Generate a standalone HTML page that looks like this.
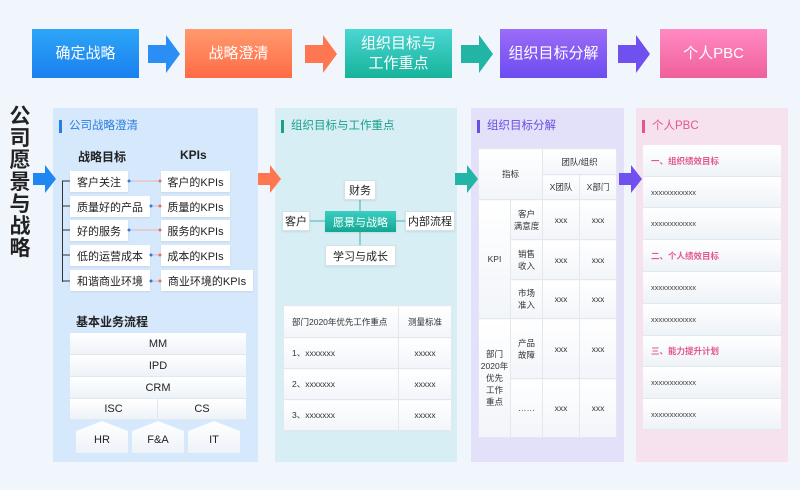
<!DOCTYPE html>
<html><head><meta charset="utf-8"><style>
*{margin:0;padding:0;box-sizing:border-box}
body{width:800px;height:490px;background:#f1f6fc;font-family:"Liberation Sans","Noto Sans CJK SC",sans-serif;position:relative;overflow:hidden;color:#222}
.a{position:absolute}
.top{position:absolute;top:29px;height:49px;width:107px;color:#fff;font-size:15px;display:flex;align-items:center;justify-content:center;text-align:center;line-height:20px}
.panel{position:absolute;top:108px;height:354px}
.ttl{position:absolute;left:6px;top:12px;font-size:11.5px;padding-left:7px;border-left:3px solid;line-height:13px}
.box{position:absolute;background:#fff;font-size:11px;display:flex;align-items:center;justify-content:center;box-shadow:0 1px 2px rgba(0,0,0,.08)}
.row{position:absolute;background:linear-gradient(#fff,#eef3f8);font-size:11px;display:flex;align-items:center;justify-content:center;border-bottom:1px solid #e0e8f0}
table{border-collapse:collapse;position:absolute;background:#fff}
td{border:1px solid #e3e8ef;text-align:center;font-size:8.5px;color:#333;background:linear-gradient(#fff,#f2f5f9)}
</style></head><body>
<!-- top flow -->
<div class="top" style="left:32px;background:linear-gradient(#2ca6f6,#1a7ff0)">确定战略</div>
<div class="top" style="left:185px;background:linear-gradient(#ff9a6e,#ff6b45)">战略澄清</div>
<div class="top" style="left:345px;background:linear-gradient(#4bd6d2,#16b39b)">组织目标与<br>工作重点</div>
<div class="top" style="left:500px;background:linear-gradient(#9b6cf7,#6c4cf0)">组织目标分解</div>
<div class="top" style="left:660px;background:linear-gradient(#ff8ac4,#f0609a)">个人PBC</div>
<div class="a" style="left:8px;top:106px;width:24px;font-size:21px;font-weight:bold;line-height:22px;text-align:center">公<br>司<br>愿<br>景<br>与<br>战<br>略</div>

<!-- panel1 -->
<div class="panel" style="left:53px;width:205px;background:#d6e8fb">
<div class="ttl" style="color:#2a7de0;border-color:#2a7de0">公司战略澄清</div>
</div>
<div class="a" style="left:78px;top:148px;font-size:12px;font-weight:bold">战略目标</div>
<div class="a" style="left:180px;top:148px;font-size:12px;font-weight:bold">KPIs</div>
<div class="a" style="left:62px;top:181px;width:1px;height:101px;background:#333"></div>
<div class="box" style="left:70px;top:171px;width:58px;height:21px;justify-content:flex-start;padding-left:7px">客户关注</div>
<div class="box" style="left:70px;top:196px;width:80px;height:21px;justify-content:flex-start;padding-left:7px">质量好的产品</div>
<div class="box" style="left:70px;top:220px;width:58px;height:21px;justify-content:flex-start;padding-left:7px">好的服务</div>
<div class="box" style="left:70px;top:245px;width:80px;height:21px;justify-content:flex-start;padding-left:7px">低的运营成本</div>
<div class="box" style="left:70px;top:270px;width:80px;height:21px;justify-content:flex-start;padding-left:7px">和谐商业环境</div>
<div class="box" style="left:161px;top:171px;width:69px;height:21px">客户的KPIs</div>
<div class="box" style="left:161px;top:196px;width:69px;height:21px">质量的KPIs</div>
<div class="box" style="left:161px;top:220px;width:69px;height:21px">服务的KPIs</div>
<div class="box" style="left:161px;top:245px;width:69px;height:21px">成本的KPIs</div>
<div class="box" style="left:161px;top:270px;width:92px;height:21px">商业环境的KPIs</div>
<svg class="a" style="left:0;top:0" width="800" height="490">
<g stroke="#333" stroke-width="1"><path d="M62,181h8M62,206h8M62,230h8M62,255h8M62,281h8"/></g>
<g stroke="#f2a0a0" stroke-width="0.8"><path d="M129,181h32M151,206h10M129,230h32M151,255h10M151,281h10"/></g>
<g fill="#2a7de0"><circle cx="129" cy="181" r="1.5"/><circle cx="151" cy="206" r="1.5"/><circle cx="129" cy="230" r="1.5"/><circle cx="151" cy="255" r="1.5"/><circle cx="151" cy="281" r="1.5"/></g>
<g fill="#f06a5a"><circle cx="160" cy="181" r="1.5"/><circle cx="160" cy="206" r="1.5"/><circle cx="160" cy="230" r="1.5"/><circle cx="160" cy="255" r="1.5"/><circle cx="160" cy="281" r="1.5"/></g>
</svg>
<div class="a" style="left:76px;top:313px;font-size:12px;font-weight:bold">基本业务流程</div>
<div class="row" style="left:70px;top:333px;width:176px;height:22px">MM</div>
<div class="row" style="left:70px;top:355px;width:176px;height:22px">IPD</div>
<div class="row" style="left:70px;top:377px;width:176px;height:22px">CRM</div>
<div class="row" style="left:70px;top:399px;width:88px;height:21px;border-right:1px solid #e0e8f0">ISC</div>
<div class="row" style="left:158px;top:399px;width:88px;height:21px">CS</div>
<svg class="a" style="left:0;top:0" width="800" height="490">
<defs><linearGradient id="pg" x1="0" y1="0" x2="0" y2="1"><stop offset="0" stop-color="#fff"/><stop offset="1" stop-color="#eef3f8"/></linearGradient></defs>
<path d="M76,431l26,-10l26,10v22h-52z" fill="url(#pg)"/>
<path d="M132,431l26,-10l26,10v22h-52z" fill="url(#pg)"/>
<path d="M188,431l26,-10l26,10v22h-52z" fill="url(#pg)"/>
<g font-size="11" text-anchor="middle" fill="#222" font-family="Liberation Sans"><text x="102" y="443">HR</text><text x="158" y="443">F&amp;A</text><text x="214" y="443">IT</text></g>
</svg>

<!-- panel2 -->
<div class="panel" style="left:275px;width:182px;background:#d8eef5">
<div class="ttl" style="color:#1aa08d;border-color:#1aa08d">组织目标与工作重点</div>
</div>
<svg class="a" style="left:0;top:0" width="800" height="490">
<g stroke="#1aa08d" stroke-width="0.8"><path d="M360,200v11M360,232v13M310,221h15M396,221h9"/></g>
</svg>
<div class="box" style="left:344px;top:180px;width:32px;height:20px;border:1px solid #cfe3e8">财务</div>
<div class="box" style="left:282px;top:211px;width:28px;height:20px;border:1px solid #cfe3e8">客户</div>
<div class="box" style="left:325px;top:211px;width:71px;height:21px;background:linear-gradient(#3ccfc0,#13a793);color:#fff">愿景与战略</div>
<div class="box" style="left:405px;top:211px;width:50px;height:20px;border:1px solid #cfe3e8">内部流程</div>
<div class="box" style="left:325px;top:245px;width:71px;height:21px;border:1px solid #cfe3e8">学习与成长</div>
<table style="left:283px;top:305px;width:169px">
<tr style="height:32px"><td style="text-align:left;padding-left:8px">部门2020年优先工作重点</td><td style="width:53px">测量标准</td></tr>
<tr style="height:31px"><td style="text-align:left;padding-left:8px">1、xxxxxxx</td><td>xxxxx</td></tr>
<tr style="height:31px"><td style="text-align:left;padding-left:8px">2、xxxxxxx</td><td>xxxxx</td></tr>
<tr style="height:31px"><td style="text-align:left;padding-left:8px">3、xxxxxxx</td><td>xxxxx</td></tr>
</table>

<!-- panel3 -->
<div class="panel" style="left:471px;width:153px;background:#e3e0fa">
<div class="ttl" style="color:#6a4ee0;border-color:#6a4ee0">组织目标分解</div>
</div>
<table style="left:478px;top:148px;width:139px">
<tr style="height:26px"><td colspan="2" rowspan="2">指标</td><td colspan="2">团队/组织</td></tr>
<tr style="height:25px"><td style="width:37px">X团队</td><td style="width:37px">X部门</td></tr>
<tr style="height:40px"><td rowspan="3" style="width:32px">KPI</td><td>客户<br>满意度</td><td>xxx</td><td>xxx</td></tr>
<tr style="height:40px"><td>销售<br>收入</td><td>xxx</td><td>xxx</td></tr>
<tr style="height:39px"><td>市场<br>准入</td><td>xxx</td><td>xxx</td></tr>
<tr style="height:60px"><td rowspan="2">部门<br>2020年<br>优先<br>工作<br>重点</td><td>产品<br>故障</td><td>xxx</td><td>xxx</td></tr>
<tr style="height:59px"><td>……</td><td>xxx</td><td>xxx</td></tr>
</table>

<!-- panel4 -->
<div class="panel" style="left:636px;width:152px;background:#f6e2ef">
<div class="ttl" style="color:#e4578e;border-color:#e4578e">个人PBC</div>
</div>
<div class="a" style="left:643px;top:145px;width:138px">
<div class="row" style="position:relative;height:32px;justify-content:flex-start;padding-left:8px;color:#e4578e;font-size:8.5px;font-weight:bold">一、组织绩效目标</div>
<div class="row" style="position:relative;height:31px;justify-content:flex-start;padding-left:8px;font-size:7.5px;color:#444">xxxxxxxxxxxx</div>
<div class="row" style="position:relative;height:32px;justify-content:flex-start;padding-left:8px;font-size:7.5px;color:#444">xxxxxxxxxxxx</div>
<div class="row" style="position:relative;height:32px;justify-content:flex-start;padding-left:8px;color:#e4578e;font-size:8.5px;font-weight:bold">二、个人绩效目标</div>
<div class="row" style="position:relative;height:32px;justify-content:flex-start;padding-left:8px;font-size:7.5px;color:#444">xxxxxxxxxxxx</div>
<div class="row" style="position:relative;height:32px;justify-content:flex-start;padding-left:8px;font-size:7.5px;color:#444">xxxxxxxxxxxx</div>
<div class="row" style="position:relative;height:31px;justify-content:flex-start;padding-left:8px;color:#e4578e;font-size:8.5px;font-weight:bold">三、能力提升计划</div>
<div class="row" style="position:relative;height:32px;justify-content:flex-start;padding-left:8px;font-size:7.5px;color:#444">xxxxxxxxxxxx</div>
<div class="row" style="position:relative;height:31px;justify-content:flex-start;padding-left:8px;font-size:7.5px;color:#444">xxxxxxxxxxxx</div>
</div>

<svg class="a" style="left:0;top:0" width="800" height="490">
<path d="M148,45h18v-10l14,19l-14,19v-10h-18z" fill="#2a8ef5"/>
<path d="M305,45h18v-10l14,19l-14,19v-10h-18z" fill="#ff7751"/>
<path d="M461,45h18v-10l14,19l-14,19v-10h-18z" fill="#22b4a4"/>
<path d="M618,45h18v-10l14,19l-14,19v-10h-18z" fill="#7050ee"/>
<path d="M33,173h12v-8l11,14l-11,14v-8h-12z" fill="#1f86f2"/>
<path d="M258,173h12v-8l11,14l-11,14v-8h-12z" fill="#ff7751"/>
<path d="M455,173h12v-8l11,14l-11,14v-8h-12z" fill="#22b4a4"/>
<path d="M619,173h12v-8l11,14l-11,14v-8h-12z" fill="#7050ee"/>
</svg>
</body></html>
